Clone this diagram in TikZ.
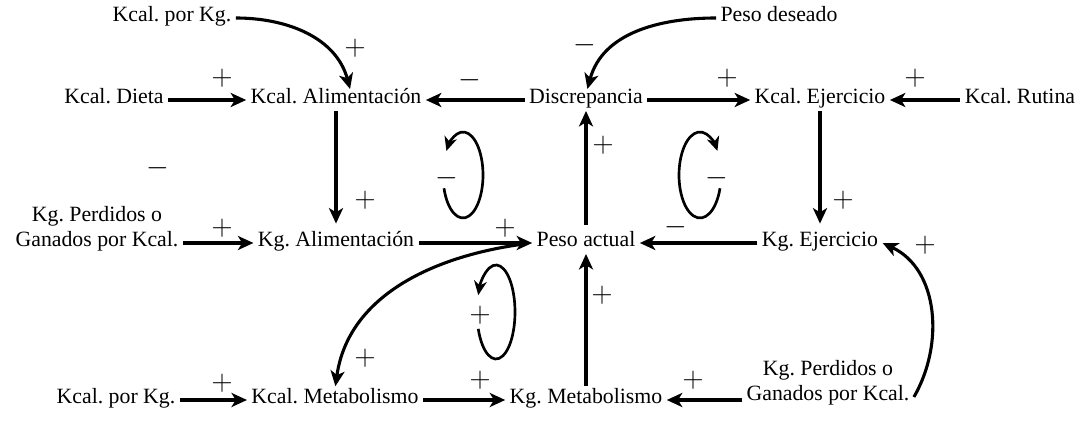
\documentclass[tikz,border=0pt]{standalone}
\usepackage{fontspec}
\setmainfont{Liberation Serif}
\usetikzlibrary{arrows.meta}
\frenchspacing

\tikzset{
  var/.style={inner sep=3pt, text height=0.7em, text depth=0.22em, align=center},
  link/.style={-{Stealth[length=11pt, width=10pt, inset=3pt]}, line width=2.2pt},
  loopline/.style={-{Stealth[length=10pt, width=9pt, inset=3pt]}, line width=1.9pt},
  sgn/.style={inner sep=0pt, font=\fontsize{20}{20}\selectfont}
}

\begin{document}
\begin{tikzpicture}[x=0.025cm, y=0.025cm, font=\fontsize{15.5}{17.7}\selectfont]

  \useasboundingbox (0,0) rectangle (1083,427);

  % --- 1. variables ---
  \node[var] (kkgA)    at (172,409) {Kcal. por Kg.};
  \node[var] (pdes)    at (779,409) {Peso deseado};

  \node[var] (kdieta)  at (114,327) {Kcal. Dieta};
  \node[var] (kalim)   at (336,327) {Kcal. Alimentación};
  \node[var] (disc)    at (586,327) {Discrepancia};
  \node[var] (kejer)   at (820,327) {Kcal. Ejercicio};
  \node[var] (krut)    at (1020,327) {Kcal. Rutina};

  \node[var] (kgperdL) at (97,184) {Kg. Perdidos o\\Ganados por Kcal.};
  \node[var] (kgalim)  at (336,184) {Kg. Alimentación};
  \node[var] (pact)    at (586,184) {Peso actual};
  \node[var] (kgejer)  at (820,184) {Kg. Ejercicio};

  \node[var] (kkgB)    at (116,27) {Kcal. por Kg.};
  \node[var] (kmet)    at (335,27) {Kcal. Metabolismo};
  \node[var] (kgmet)   at (586,27) {Kg. Metabolismo};
  \node[var] (kgperdR) at (828,30) {Kg. Perdidos o\\Ganados por Kcal.};

  % --- 2. flechas rectas ---
  \draw[link] (kdieta) -- (kalim);
  \draw[link] (disc) -- (kalim);
  \draw[link] (disc) -- (kejer);
  \draw[link] (krut) -- (kejer);

  \draw[link, shorten >=6pt] (kalim) -- (kgalim);
  \draw[link, shorten <=5pt] (pact) -- (disc);
  \draw[link, shorten >=6pt] (kejer) -- (kgejer);

  \draw[link] (kgperdL) -- (kgalim);
  \draw[link] (kgalim) -- (pact);
  \draw[link] (kgejer) -- (pact);

  \draw[link, shorten <=2pt] (kgmet) -- (pact);

  \draw[link] (kkgB) -- (kmet);
  \draw[link] (kmet) -- (kgmet);
  \draw[link] (kgperdR.west |- kgmet) -- (kgmet);

  % --- 3. flechas curvas ---
  \draw[link] (kkgA.east) to[out=0, in=105] ([xshift=10pt]kalim.north);
  \draw[link] (pdes.west) to[out=180, in=75] ([xshift=1pt]disc.north);
  \draw[link] (kgperdR.east) to[out=60, in=-25] (kgejer.east);
  \draw[link, shorten >=2pt] ([xshift=-8pt, yshift=-1pt]pact.west) to[out=188, in=82] (kmet.north);

  % --- 4. bucles ---
  \coordinate (loopA) at (463,252);
  \coordinate (loopB) at (700,252);
  \coordinate (loopC) at (496,115);
  \draw[loopline] ([shift={(198:20 and 43)}]loopA)
    arc[start angle=198, end angle=506, x radius=20, y radius=43];
  \draw[loopline] ([shift={(-18:21 and 43)}]loopB)
    arc[start angle=-18, end angle=-326, x radius=21, y radius=43];
  \draw[loopline] ([shift={(201:19 and 47)}]loopC)
    arc[start angle=201, end angle=519, x radius=19, y radius=47];

  % --- 5. signos ---
  \node[sgn] (s1)  at (222,349) {$+$};
  \node[sgn] (s2)  at (355,379) {$+$};
  \node[sgn] (s3)  at (470,347) {$-$};
  \node[sgn] (s4)  at (585,382) {$-$};
  \node[sgn] (s5)  at (727,349) {$+$};
  \node[sgn] (s6)  at (915,349) {$+$};
  \node[sgn] (s7)  at (365,227) {$+$};
  \node[sgn] (s8)  at (158,259) {$-$};
  \node[sgn] (s9)  at (447,249) {$-$};
  \node[sgn] (s10) at (717,249) {$-$};
  \node[sgn] (s11) at (603,282) {$+$};
  \node[sgn] (s12) at (843,227) {$+$};
  \node[sgn] (s13) at (222,199) {$+$};
  \node[sgn] (s14) at (505,199) {$+$};
  \node[sgn] (s15) at (676,200) {$-$};
  \node[sgn] (s16) at (925,182) {$+$};
  \node[sgn] (s17) at (480,112) {$+$};
  \node[sgn] (s18) at (365,69)  {$+$};
  \node[sgn] (s19) at (602,132) {$+$};
  \node[sgn] (s20) at (222,44)  {$+$};
  \node[sgn] (s21) at (480,47)  {$+$};
  \node[sgn] (s22) at (693,47)  {$+$};

\end{tikzpicture}
\end{document}
